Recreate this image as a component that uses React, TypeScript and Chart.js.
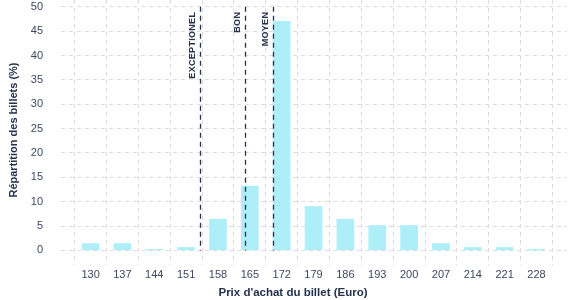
import React, { useEffect, useRef } from "react";
import { Chart, registerables } from "chart.js";

Chart.register(...registerables);

const prices = [130, 137, 144, 151, 158, 165, 172, 179, 186, 193, 200, 207, 214, 221, 228];
const shares = [1.4, 1.4, 0.2, 0.6, 6.4, 13.2, 47.0, 9.0, 6.4, 5.1, 5.1, 1.4, 0.6, 0.6, 0.2];
const yTicks = [0, 5, 10, 15, 20, 25, 30, 35, 40, 45, 50];
const markerLabels = ["EXCEPTIONEL", "BON", "MOYEN"];
const markerPrices = [154, 164, 170];
const xTitle = "Prix d'achat du billet (Euro)";
const yTitle = "Répartition des billets (%)";

const FONT = "'Liberation Sans', Arial, sans-serif";
const NAVY = "#25314d";
const TICK = "#3b4760";
const GRID = "#dcdcdc";

const overlayPlugin = {
  id: "overlay",
  afterDatasetsDraw(chart: any) {
    const { ctx } = chart;
    const xs = chart.scales.x;
    const ys = chart.scales.y;
    const top = ys.getPixelForValue(50);
    const bottom = ys.getPixelForValue(0);
    ctx.save();
    markerPrices.forEach((p, i) => {
      const x = Math.round(xs.getPixelForValue(p)) + 0.5;
      ctx.beginPath();
      ctx.setLineDash([5, 4]);
      ctx.strokeStyle = NAVY;
      ctx.lineWidth = 1.3;
      ctx.moveTo(x, top);
      ctx.lineTo(x, bottom);
      ctx.stroke();
      ctx.setLineDash([]);
      ctx.save();
      ctx.translate(x - 7.5, top + 5);
      ctx.rotate(-Math.PI / 2);
      ctx.font = `bold 9px ${FONT}`;
      (ctx as any).letterSpacing = "0.3px";
      ctx.fillStyle = NAVY;
      ctx.textAlign = "right";
      ctx.textBaseline = "middle";
      ctx.fillText(markerLabels[i], 0, 0);
      ctx.restore();
    });
    ctx.restore();
  },
  afterDraw(chart: any) {
    const { ctx } = chart;
    ctx.save();
    ctx.fillStyle = NAVY;
    ctx.textAlign = "center";
    ctx.textBaseline = "middle";
    ctx.font = `bold 11.5px ${FONT}`;
    ctx.fillText(xTitle, 293, 293);
    ctx.font = `bold 11px ${FONT}`;
    ctx.translate(14, 130);
    ctx.rotate(-Math.PI / 2);
    ctx.fillText(yTitle, 0, 0);
    ctx.restore();
  },
};

export default function App() {
  const ref = useRef<HTMLCanvasElement | null>(null);
  useEffect(() => {
    document.body.style.margin = "0";
    const canvas = ref.current!;
    const chart = new Chart(canvas, {
      type: "bar",
      data: {
        datasets: [
          {
            data: prices.map((p, i) => ({ x: p, y: shares[i] })),
            backgroundColor: "#aeeef8",
            borderWidth: 0,
            barThickness: 17,
          },
        ],
      },
      plugins: [overlayPlugin],
      options: {
        animation: false,
        responsive: false,
        layout: { padding: { left: 0, right: 10, top: 0, bottom: 0 } },
        plugins: { legend: { display: false }, tooltip: { enabled: false } },
        scales: {
          x: {
            type: "linear",
            min: 123.5,
            max: 234.7,
            offset: false,
            border: { display: false, dash: [4, 4] },
            grid: { color: GRID, drawTicks: false },
            ticks: {
              color: TICK,
              font: { family: FONT, size: 11 },
              padding: 3,
              maxRotation: 0,
              autoSkip: false,
            },
            afterBuildTicks: (s: any) => {
              s.ticks = prices.map((v) => ({ value: v }));
            },
            afterFit: (s: any) => {
              s.height = 35;
              s.paddingLeft = 0;
              s.paddingRight = 0;
            },
          },
          y: {
            type: "linear",
            min: -3,
            max: 51.4,
            border: { display: false, dash: [4, 4] },
            grid: { color: GRID, drawTicks: false },
            ticks: {
              color: TICK,
              font: { family: FONT, size: 11 },
              padding: 18,
            },
            afterBuildTicks: (s: any) => {
              s.ticks = yTicks.map((v) => ({ value: v }));
            },
            afterFit: (s: any) => {
              s.width = 61;
              s.paddingTop = 0;
              s.paddingBottom = 0;
            },
          },
        },
      } as any,
    });
    return () => chart.destroy();
  }, []);
  return (
    <div style={{ position: "absolute", left: 0, top: 0, width: 577, height: 300 }}>
      <canvas ref={ref} width={577} height={300} />
    </div>
  );
}
